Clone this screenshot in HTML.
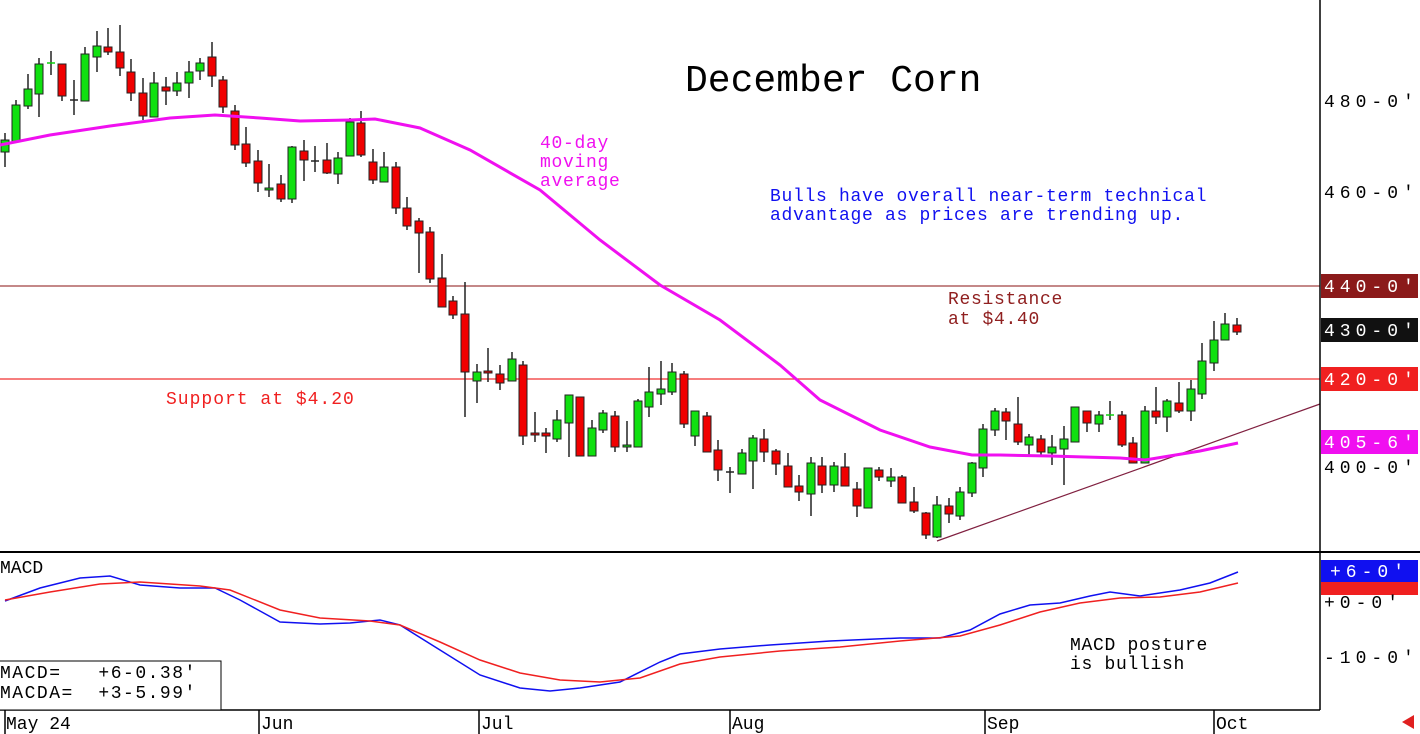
<!DOCTYPE html>
<html><head><meta charset="utf-8"><style>
html,body{margin:0;padding:0;background:#fff;width:1420px;height:734px;overflow:hidden}
svg text{font-family:"Liberation Mono",monospace}
</style></head><body>
<svg id="s" width="1420" height="734" xmlns="http://www.w3.org/2000/svg">
<rect width="1420" height="734" fill="#fff"/>
<line x1="0" y1="286" x2="1320" y2="286" stroke="#a04040" stroke-width="1.2"/>
<line x1="0" y1="379" x2="1320" y2="379" stroke="#f03030" stroke-width="1.2"/>
<line x1="937" y1="541" x2="1320" y2="404" stroke="#802040" stroke-width="1.2"/>
<g id="c"></g>
<polyline fill="none" stroke="#f010f0" stroke-width="3" points="0,145 50,135 110,126 170,118 215,115 260,118 300,121 350,120 375,119 420,128 470,150 540,190 600,240 660,285 720,320 780,365 820,400 880,430 930,447 972,455 1000,455 1050,456 1120,458 1145,460 1200,451 1238,443"/>
<line x1="1320" y1="0" x2="1320" y2="710" stroke="#000" stroke-width="1.5"/>
<line x1="0" y1="552" x2="1420" y2="552" stroke="#000" stroke-width="2"/>
<line x1="0" y1="710" x2="1320" y2="710" stroke="#000" stroke-width="1.5"/>
<text x="685" y="91" font-size="38">December Corn</text>
<g font-size="18" fill="#f010f0" letter-spacing="0.7"><text x="540" y="148">40-day</text><text x="540" y="167">moving</text><text x="540" y="186">average</text></g>
<g font-size="18" fill="#1010f0" letter-spacing="0.7"><text x="770" y="201">Bulls have overall near-term technical</text><text x="770" y="220">advantage as prices are trending up.</text></g>
<g font-size="18" fill="#902020" letter-spacing="0.7"><text x="948" y="304">Resistance</text><text x="948" y="324">at $4.40</text></g>
<text x="166" y="404" font-size="18" fill="#f02020" letter-spacing="1">Support at $4.20</text>
<g font-size="18" letter-spacing="0.7"><text x="1070" y="650">MACD posture</text><text x="1070" y="669">is bullish</text></g>
<g font-size="18" letter-spacing="5">
<text x="1324" y="107">480-0'</text><text x="1324" y="198">460-0'</text>
<rect x="1321" y="274" width="97" height="24" fill="#8b1a1a"/><text x="1324" y="292" fill="#fff">440-0'</text>
<rect x="1321" y="318" width="97" height="24" fill="#111"/><text x="1324" y="336" fill="#fff">430-0'</text>
<rect x="1321" y="367" width="97" height="24" fill="#f02020"/><text x="1324" y="385" fill="#fff">420-0'</text>
<rect x="1321" y="430" width="97" height="24" fill="#f010f0"/><text x="1324" y="448" fill="#fff">405-6'</text>
<text x="1324" y="473">400-0'</text>
<rect x="1321" y="582" width="97" height="13" fill="#f02020"/>
<rect x="1321" y="560" width="97" height="22" fill="#1010f0"/><text x="1330" y="577" fill="#fff">+6-0'</text>
<text x="1324" y="608">+0-0'</text><text x="1324" y="663">-10-0'</text>
</g>
<text x="0" y="573" font-size="18">MACD</text>
<rect x="-1" y="661" width="222" height="49" fill="#fff" stroke="#000"/>
<g font-size="18" letter-spacing="1.5" style="white-space:pre"><text x="0" y="678" xml:space="preserve">MACD=   +6-0.38'</text><text x="0" y="698" xml:space="preserve">MACDA=  +3-5.99'</text></g>
<polyline fill="none" stroke="#1010f0" stroke-width="1.5" points="5,601 40,588 80,578 110,576 140,585 180,588 215,588 240,600 280,622 320,624 350,623 380,620 400,625 440,650 480,675 520,688 550,691 580,688 620,682 660,662 680,654 720,649 770,645 830,641 900,638 940,638 970,630 1000,614 1030,605 1060,603 1090,596 1110,592 1140,596 1180,590 1210,583 1238,572"/>
<polyline fill="none" stroke="#f02020" stroke-width="1.5" points="5,600 50,592 100,584 140,582 200,586 230,590 280,610 320,618 370,621 400,625 440,642 480,660 520,673 560,680 600,682 640,678 680,664 720,657 780,651 840,647 900,641 960,636 1000,625 1040,612 1080,603 1120,598 1160,597 1200,592 1238,583"/>
<g font-size="18">
<text x="6" y="729">May 24</text><text x="261" y="729">Jun</text><text x="481" y="729">Jul</text><text x="732" y="729">Aug</text><text x="987" y="729">Sep</text><text x="1216" y="729">Oct</text>
</g>
<g stroke="#000" stroke-width="1.5"><line x1="5" y1="710" x2="5" y2="734"/><line x1="259" y1="710" x2="259" y2="734"/><line x1="479" y1="710" x2="479" y2="734"/><line x1="730" y1="710" x2="730" y2="734"/><line x1="985" y1="710" x2="985" y2="734"/><line x1="1214" y1="710" x2="1214" y2="734"/></g>
<polygon points="1402,722 1414,715 1414,729" fill="#e02020"/>
</svg>
<script>
var d=[[5,152,140,133,167],[16,142,105,100,142],[28,106,89,74,109],[39,94,64,58,117],[51,63,63,51,75,1],[62,64,96,64,101],[74,100,100,80,115,0],[85,101,54,47,101],[97,57,46,31,72],[108,47,52,28,55],[120,52,68,25,76],[131,72,93,59,101],[143,93,116,78,120],[154,117,83,72,117],[166,87,91,77,105],[177,91,83,72,96],[189,83,72,61,98],[200,71,63,58,80],[212,57,76,42,87],[223,80,107,76,113],[235,111,145,105,150],[246,144,163,127,167],[258,161,183,150,192],[269,189,188,164,197],[281,184,199,175,202],[292,199,147,146,203],[304,151,160,140,181],[315,161,161,146,172,0],[327,160,173,143,174],[338,174,158,152,184],[350,156,122,118,156],[361,123,155,111,157],[373,162,180,149,184],[384,182,167,152,182],[396,167,208,162,214],[407,208,226,197,230],[419,221,233,218,273],[430,232,279,227,283],[442,278,307,254,307],[453,301,315,296,319],[465,314,372,282,417],[477,381,372,364,403],[488,371,373,348,382],[500,374,383,365,390],[512,381,359,352,381],[523,365,436,361,445],[535,433,435,412,442],[546,433,436,428,453],[557,439,420,410,442],[569,423,395,395,457],[580,397,456,397,456],[592,456,428,420,456],[603,430,413,410,433],[615,416,447,411,452],[627,447,445,421,452],[638,447,401,399,447],[649,407,392,367,417],[661,394,389,361,405],[672,392,372,363,395],[684,374,424,371,428],[695,436,411,411,446],[707,416,452,412,452],[718,450,470,440,481],[730,472,472,467,493,0],[742,474,453,449,474],[753,461,438,435,489],[764,439,452,429,462],[776,451,464,449,475],[788,466,487,453,487],[799,486,492,475,501],[811,494,463,457,516],[822,466,485,457,493],[834,485,466,462,492],[845,467,486,453,486],[857,489,506,482,517],[868,508,468,468,508],[879,470,477,467,481],[891,481,477,468,487],[902,477,503,475,503],[914,502,511,487,513],[926,513,535,512,539],[937,537,505,496,538],[949,506,514,498,523],[960,516,492,487,520],[972,493,463,462,497],[983,468,429,424,477],[995,430,411,408,436],[1006,412,421,408,440],[1018,424,442,397,445],[1029,445,437,434,457],[1041,439,452,435,457],[1052,453,447,435,465],[1064,449,439,426,485],[1075,442,407,407,442],[1087,411,423,411,432],[1099,424,415,411,432],[1110,415,415,401,420,1],[1122,415,445,411,447],[1133,443,463,437,463],[1145,463,411,406,463],[1156,411,417,387,424],[1167,417,401,399,432],[1179,403,411,382,413],[1191,411,389,380,421],[1202,394,361,343,399],[1214,363,340,321,371],[1225,340,324,313,340],[1237,325,332,318,335]];
var g=document.getElementById('c'),h='';
d.forEach(function(c){var x=c[0],o=c[1],cl=c[2],hi=c[3],lo=c[4];
h+='<line x1="'+x+'" y1="'+hi+'" x2="'+x+'" y2="'+lo+'" stroke="#222" stroke-width="1.5"/>';
if(o===cl){h+='<line x1="'+(x-4)+'" y1="'+o+'" x2="'+(x+4)+'" y2="'+o+'" stroke="'+(c[5]?'#10d010':'#222')+'" stroke-width="1.5"/>';return;}
var t=Math.min(o,cl),b=Math.max(o,cl),col=cl<o?'#10e010':'#f00000';
h+='<rect x="'+(x-4)+'" y="'+t+'" width="8" height="'+Math.max(b-t,2)+'" fill="'+col+'" stroke="#222" stroke-width="1"/>';});
g.innerHTML=h;
</script>
</body></html>
